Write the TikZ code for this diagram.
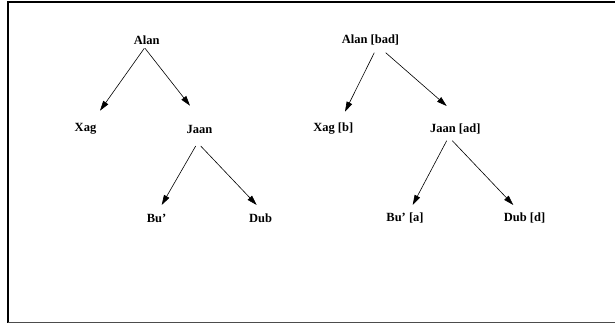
\documentclass[tikz,border=0pt]{standalone}
\usepackage{fontspec}
\setmainfont{Liberation Serif}
\usetikzlibrary{arrows.meta,calc}
\begin{document}
\begin{tikzpicture}[x=1pt,y=-1pt,
  lbl/.style={inner sep=0pt,font=\fontsize{12.5}{14}\selectfont\bfseries},
  arr/.style={-{Triangle[length=10pt,width=6pt]},line width=0.6pt}]
\useasboundingbox (0,0) rectangle (615,323);
\draw[line width=2pt,black] (7.7,323) -- (7.7,2) -- (615,2);
\draw[line width=1pt,black!70] (7.7,322.3) -- (615,322.3);
% left tree
\node[lbl] (alan) at (146.7,40) {Alan};
\node[lbl] (xag) at (85.5,129) {Xag};
\node[lbl] (jaan) at (199.5,129) {Jaan};
\node[lbl] (bu) at (156.5,218) {Bu’};
\node[lbl] (dub) at (260.5,218) {Dub};
\draw[arr] ($(alan)+(-2.4,8.3)$) -- ($(xag)+(14.5,-18.3)$);
\draw[arr] ($(alan)+(-1.7,8.3)$) -- ($(jaan)+(-9.5,-23.3)$);
\draw[arr] ($(jaan)+(-3.8,17)$) -- ($(bu)+(5.2,-13)$);
\draw[arr] ($(jaan)+(1.2,17)$) -- ($(dub)+(-3.8,-13)$);
% right tree
\node[lbl] (alanb) at (370.5,40.5) {Alan [bad]};
\node[lbl] (xagb) at (333.3,129) {Xag [b]};
\node[lbl] (jaanb) at (455.3,129) {Jaan [ad]};
\node[lbl] (bua) at (405,218) {Bu’ [a]};
\node[lbl] (dubd) at (524.5,218) {Dub [d]};
\draw[arr] ($(alanb)+(3.8,12.2)$) -- ($(xagb)+(11.7,-17.3)$);
\draw[arr] ($(alanb)+(15.2,12.2)$) -- ($(jaanb)+(-8.6,-23)$);
\draw[arr] ($(jaanb)+(-8.6,11.7)$) -- ($(bua)+(7.7,-13)$);
\draw[arr] ($(jaanb)+(-3,11.7)$) -- ($(dubd)+(-11.2,-13)$);
\end{tikzpicture}
\end{document}
